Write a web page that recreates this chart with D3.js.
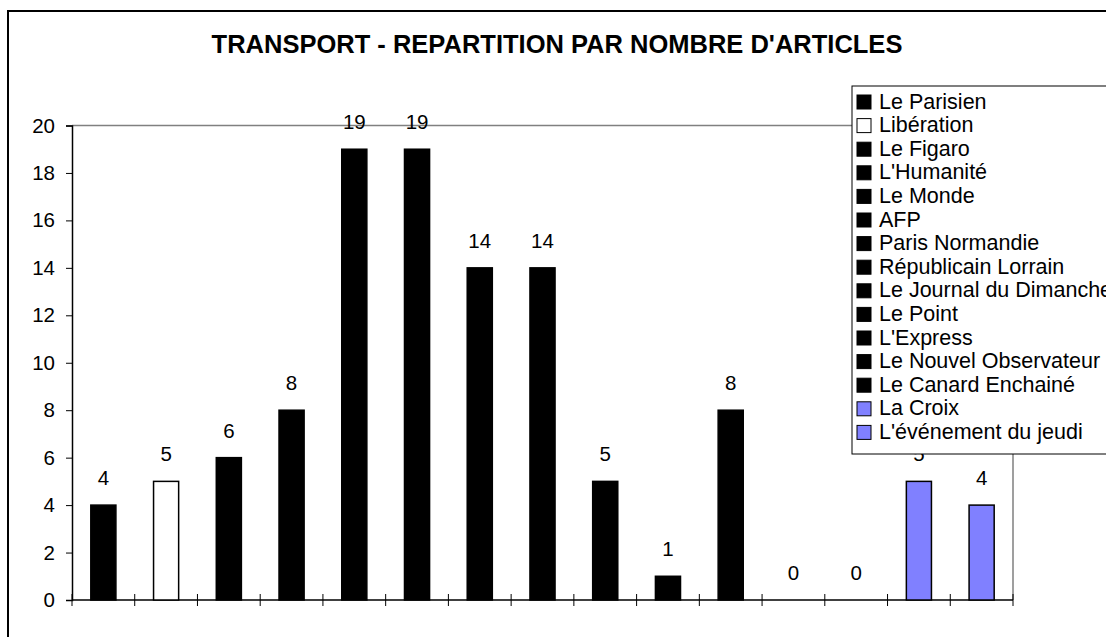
<!DOCTYPE html>
<html lang="fr">
<head>
<meta charset="utf-8">
<title>Transport - répartition par nombre d'articles</title>
<script src="https://cdn.jsdelivr.net/npm/d3@7"></script>
<style>
  body { margin: 0; background: #fff; }
  svg { display: block; font-family: "Liberation Sans", Arial, sans-serif; }
</style>
</head>
<body>
<div id="chart"></div>
<script>
// data
var journaux = ["Le Parisien", "Libération", "Le Figaro", "L'Humanité", "Le Monde", "AFP",
  "Paris Normandie", "Républicain Lorrain", "Le Journal du Dimanche", "Le Point", "L'Express",
  "Le Nouvel Observateur", "Le Canard Enchainé", "La Croix", "L'événement du jeudi"];
var articles = [4, 5, 6, 8, 19, 19, 14, 14, 5, 1, 8, 0, 0, 5, 4];
var yTicks = [0, 2, 4, 6, 8, 10, 12, 14, 16, 18, 20];

var W = 1106, H = 637;
var plot = { left: 72, right: 1013, top: 125.5, bottom: 600 };

var svg = d3.select("#chart").append("svg").attr("width", W).attr("height", H);

// outer frame (runs off the right and bottom of the picture)
svg.append("rect").attr("x", 8).attr("y", 11).attr("width", W).attr("height", H)
  .attr("fill", "#fff").attr("stroke", "#000").attr("stroke-width", 2);

svg.append("text").attr("x", 557).attr("y", 53)
  .attr("text-anchor", "middle").style("font-size", "25.5px").style("font-weight", "bold")
  .text("TRANSPORT - REPARTITION PAR NOMBRE D'ARTICLES");

var x = d3.scaleBand().domain(journaux).range([plot.left, plot.right])
  .paddingInner(0.6).paddingOuter(0.3);
var y = d3.scaleLinear().domain([0, 20]).range([plot.bottom, plot.top]);

var fill = function (name) {
  if (name === "Libération") return "#fff";
  if (name === "La Croix" || name === "L'événement du jeudi") return "#8080ff";
  return "#000";
};

// plot area border (top & right in grey)
svg.append("path")
  .attr("d", "M" + plot.left + "," + y(20) + "H" + plot.right + "V" + plot.bottom)
  .attr("fill", "none").attr("stroke", "#808080").attr("stroke-width", 1.5);

// y axis
var yAxis = svg.append("g").attr("transform", "translate(" + plot.left + ",0)")
  .call(d3.axisLeft(y).tickValues(yTicks).tickSize(6).tickPadding(11));
yAxis.select(".domain").attr("stroke", "#000").attr("stroke-width", 1.5);
yAxis.selectAll(".tick line").attr("stroke", "#000");
yAxis.selectAll(".tick text").style("font-size", "20.5px").attr("fill", "#000")
  .style("font-family", "Liberation Sans, Arial, sans-serif");

// x axis line and boundary ticks
svg.append("line").attr("x1", plot.left).attr("x2", plot.right)
  .attr("y1", plot.bottom).attr("y2", plot.bottom).attr("stroke", "#000").attr("stroke-width", 1.5);
var bounds = journaux.map(function (d) { return x(d) - x.step() * 0.3; }).concat([plot.right]);
svg.selectAll(".xtick").data(bounds).enter().append("line")
  .attr("x1", function (d) { return d; }).attr("x2", function (d) { return d; })
  .attr("y1", plot.bottom - 6).attr("y2", plot.bottom + 6)
  .attr("stroke", "#000");

// bars
svg.selectAll(".bar").data(journaux).enter().append("rect")
  .attr("x", function (d) { return x(d); })
  .attr("y", function (d, i) { return y(articles[i]); })
  .attr("width", x.bandwidth())
  .attr("height", function (d, i) { return y(0) - y(articles[i]); })
  .attr("fill", fill)
  .attr("stroke", "#000").attr("stroke-width", 1.5);

// value labels
svg.selectAll(".lbl").data(journaux).enter().append("text")
  .attr("x", function (d) { return x(d) + x.bandwidth() / 2; })
  .attr("y", function (d, i) { return y(articles[i]) - 20; })
  .attr("text-anchor", "middle").style("font-size", "20.5px")
  .text(function (d, i) { return articles[i]; });

// legend
var lg = svg.append("g");
lg.append("rect").attr("x", 852).attr("y", 86).attr("width", 300).attr("height", 368)
  .attr("fill", "#fff").attr("stroke", "#000");
var item = lg.selectAll(".item").data(journaux).enter().append("g")
  .attr("transform", function (d, i) { return "translate(0," + (108.5 + i * 23.6) + ")"; });
item.append("rect").attr("x", 857).attr("y", -13.5).attr("width", 14).attr("height", 14)
  .attr("fill", fill).attr("stroke", "#000");
item.append("text").attr("x", 879).attr("y", 0).style("font-size", "21.5px")
  .text(function (d) { return d; });
</script>
</body>
</html>
